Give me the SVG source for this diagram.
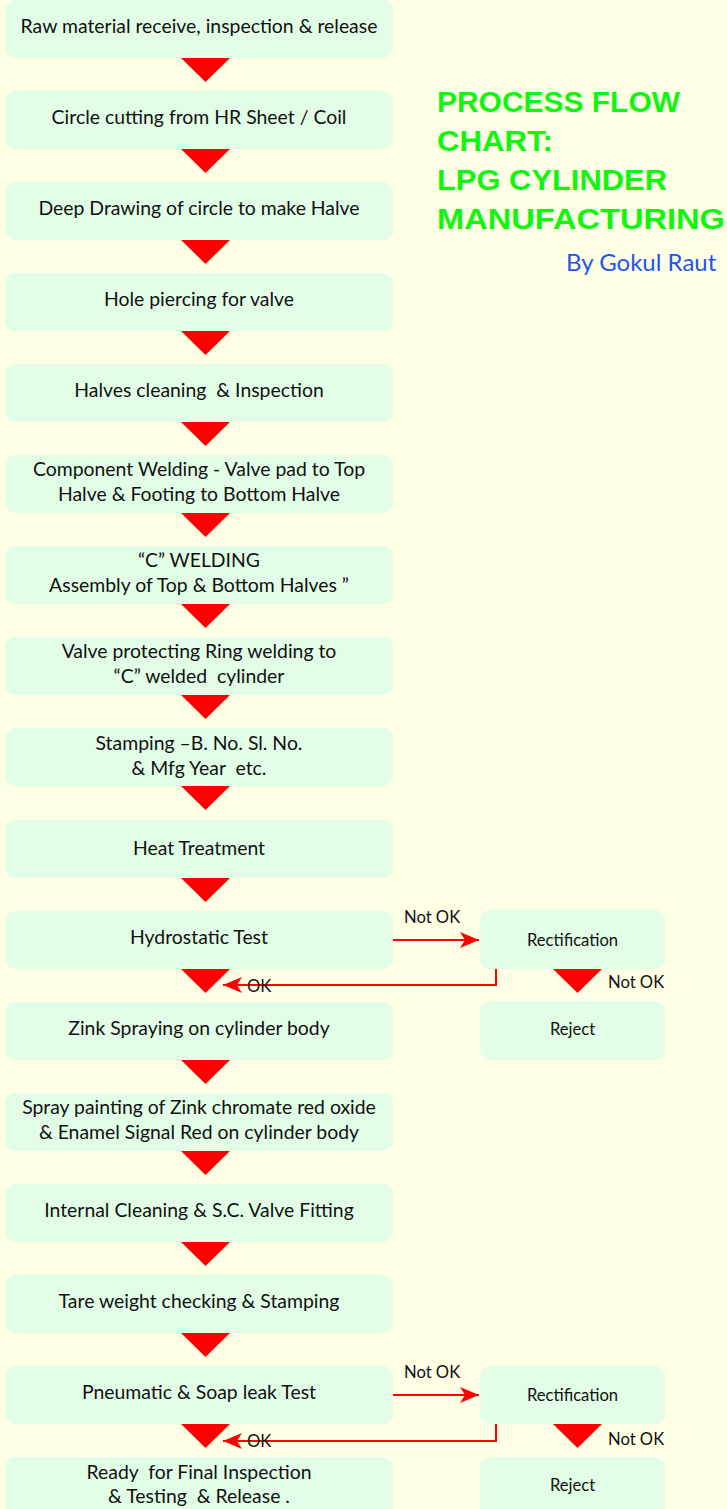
<svg xmlns="http://www.w3.org/2000/svg" width="727" height="1509" viewBox="0 0 727 1509">
<style>
.bg{fill:#FFFFE6}
.box{fill:#E2FEE6}
.t{font-family:Lato,"Liberation Sans",sans-serif;font-size:19.4px;fill:#111;text-anchor:middle}
.s{font-family:Lato,"Liberation Sans",sans-serif;font-size:16.6px;fill:#111}
.title{font-family:"Liberation Sans",Arial,sans-serif;font-weight:bold;font-size:29px;fill:#11F511}
.by{font-family:Lato,"Liberation Sans",sans-serif;font-size:24px;fill:#2255EE}
.tri{fill:#FF0000}
.ln{fill:none;stroke:#FF0000;stroke-width:2}
</style>
<defs>
<path id="tri" class="tri" d="M0,0 L49,0 L24.5,24 Z"/>
<marker id="ah" markerWidth="20" markerHeight="16" refX="19" refY="8" orient="auto" markerUnits="userSpaceOnUse">
<path d="M0,0 L19,8 L0,16 L5,8 Z" fill="#FF0000"/>
</marker>
</defs>
<rect class="bg" x="0" y="0" width="727" height="1509"/>
<g id="title">
<text class="title" x="437" y="112" textLength="243" lengthAdjust="spacingAndGlyphs">PROCESS FLOW</text>
<text class="title" x="437" y="151" textLength="116" lengthAdjust="spacingAndGlyphs">CHART:</text>
<text class="title" x="437" y="190" textLength="230" lengthAdjust="spacingAndGlyphs">LPG CYLINDER</text>
<text class="title" x="437" y="229" textLength="288" lengthAdjust="spacingAndGlyphs">MANUFACTURING</text>
<text class="by" x="566" y="271">By Gokul Raut</text>
</g>
<g id="n1"><rect class="box" x="5" y="0" width="388" height="58" rx="10"/><text class="t" x="199" y="33">Raw material receive, inspection &amp; release</text></g>
<g id="n2"><rect class="box" x="5" y="91" width="388" height="58" rx="10"/><text class="t" x="199" y="124">Circle cutting from HR Sheet / Coil</text></g>
<g id="n3"><rect class="box" x="5" y="182" width="388" height="58" rx="10"/><text class="t" x="199" y="215">Deep Drawing of circle to make Halve</text></g>
<g id="n4"><rect class="box" x="5" y="273" width="388" height="58" rx="10"/><text class="t" x="199" y="306">Hole piercing for valve</text></g>
<g id="n5"><rect class="box" x="5" y="364" width="388" height="58" rx="10"/><text class="t" x="199" y="397" xml:space="preserve">Halves cleaning  &amp; Inspection</text></g>
<g id="n6"><rect class="box" x="5" y="455" width="388" height="58" rx="10"/><text class="t" x="199" y="476">Component Welding - Valve pad to Top</text><text class="t" x="199" y="501">Halve &amp; Footing to Bottom Halve</text></g>
<g id="n7"><rect class="box" x="5" y="546" width="388" height="58" rx="10"/><text class="t" x="199" y="567">“C” WELDING</text><text class="t" x="199" y="592">Assembly of Top &amp; Bottom Halves ”</text></g>
<g id="n8"><rect class="box" x="5" y="637" width="388" height="58" rx="10"/><text class="t" x="199" y="658">Valve protecting Ring welding to</text><text class="t" x="199" y="683" xml:space="preserve">“C” welded  cylinder</text></g>
<g id="n9"><rect class="box" x="5" y="728" width="388" height="58" rx="10"/><text class="t" x="199" y="750">Stamping –B. No. Sl. No.</text><text class="t" x="199" y="775" xml:space="preserve">&amp; Mfg Year  etc.</text></g>
<g id="n10"><rect class="box" x="5" y="820" width="388" height="58" rx="10"/><text class="t" x="199" y="855">Heat Treatment</text></g>
<g id="n11"><rect class="box" x="5" y="911" width="388" height="58" rx="10"/><text class="t" x="199" y="944">Hydrostatic Test</text></g>
<g id="n12"><rect class="box" x="5" y="1002" width="388" height="58" rx="10"/><text class="t" x="199" y="1035">Zink Spraying on cylinder body</text></g>
<g id="n13"><rect class="box" x="5" y="1093" width="388" height="58" rx="10"/><text class="t" x="199" y="1114">Spray painting of Zink chromate red oxide</text><text class="t" x="199" y="1139">&amp; Enamel Signal Red on cylinder body</text></g>
<g id="n14"><rect class="box" x="5" y="1184" width="388" height="58" rx="10"/><text class="t" x="199" y="1217">Internal Cleaning &amp; S.C. Valve Fitting</text></g>
<g id="n15"><rect class="box" x="5" y="1275" width="388" height="58" rx="10"/><text class="t" x="199" y="1308">Tare weight checking &amp; Stamping</text></g>
<g id="n16"><rect class="box" x="5" y="1366" width="388" height="58" rx="10"/><text class="t" x="199" y="1399">Pneumatic &amp; Soap leak Test</text></g>
<g id="n17"><rect class="box" x="5" y="1457" width="388" height="70" rx="10"/><text class="t" x="199" y="1479" xml:space="preserve">Ready  for Final Inspection</text><text class="t" x="199" y="1503" xml:space="preserve">&amp; Testing  &amp; Release .</text></g>
<g id="r1"><rect class="box" x="480" y="910" width="185" height="59" rx="10"/><text class="s" x="572.5" y="946" text-anchor="middle">Rectification</text></g>
<g id="j1"><rect class="box" x="480" y="1001" width="185" height="59" rx="10"/><text class="s" x="572.5" y="1035" text-anchor="middle">Reject</text></g>
<g id="r2"><rect class="box" x="480" y="1366" width="185" height="58" rx="10"/><text class="s" x="572.5" y="1401" text-anchor="middle">Rectification</text></g>
<g id="j2"><rect class="box" x="480" y="1457" width="185" height="60" rx="10"/><text class="s" x="572.5" y="1491" text-anchor="middle">Reject</text></g>
<g id="connectors">
<use href="#tri" x="181" y="58"/>
<use href="#tri" x="181" y="149"/>
<use href="#tri" x="181" y="240"/>
<use href="#tri" x="181" y="331"/>
<use href="#tri" x="181" y="422"/>
<use href="#tri" x="181" y="513"/>
<use href="#tri" x="181" y="604"/>
<use href="#tri" x="181" y="695"/>
<use href="#tri" x="181" y="786"/>
<use href="#tri" x="181" y="878"/>
<use href="#tri" x="181" y="969"/>
<use href="#tri" x="181" y="1060"/>
<use href="#tri" x="181" y="1151"/>
<use href="#tri" x="181" y="1242"/>
<use href="#tri" x="181" y="1333"/>
<use href="#tri" x="181" y="1424"/>
<use href="#tri" x="553" y="969"/>
<use href="#tri" x="553" y="1424"/>
<path class="ln" d="M393,940 H479" marker-end="url(#ah)"/>
<path class="ln" d="M496,969 V985 H223" marker-end="url(#ah)"/>
<path class="ln" d="M393,1395 H479" marker-end="url(#ah)"/>
<path class="ln" d="M496,1424 V1441 H223" marker-end="url(#ah)"/>
<text class="s" x="404" y="923">Not OK</text>
<text class="s" x="608" y="988">Not OK</text>
<text class="s" x="247" y="992">OK</text>
<text class="s" x="404" y="1378">Not OK</text>
<text class="s" x="608" y="1445">Not OK</text>
<text class="s" x="247" y="1447">OK</text>
</g>
</svg>
